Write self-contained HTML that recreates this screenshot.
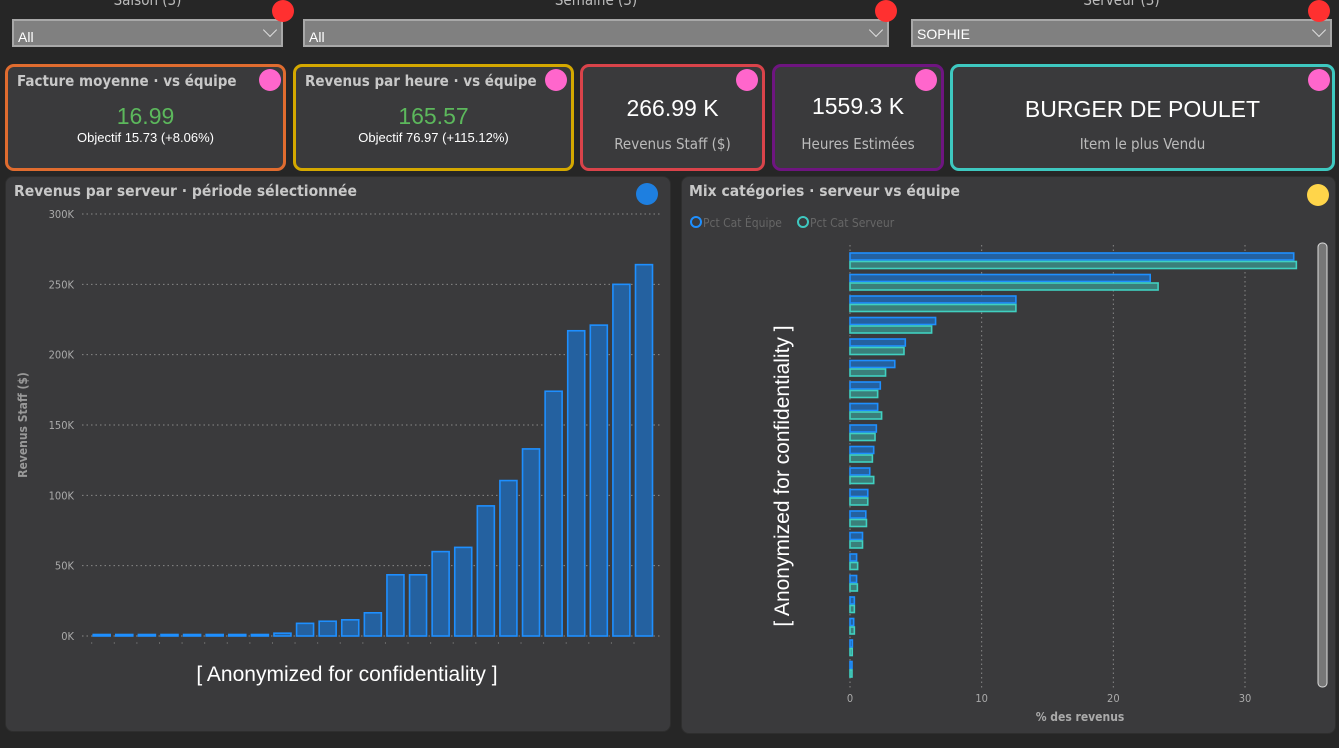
<!DOCTYPE html>
<html><head><meta charset="utf-8">
<style>
*{box-sizing:border-box;margin:0;padding:0}
body{width:1339px;height:748px;background:#262626;font-family:"DejaVu Sans Condensed","Liberation Sans",sans-serif;position:relative;overflow:hidden;color:#fff}
.abs{position:absolute}
.slabel{position:absolute;top:-9px;color:#bbb;font-size:15px;text-align:center}
.dd{position:absolute;top:19px;height:28px;background:#808080;border:2px solid #a8a8a8;font-family:"Liberation Sans",sans-serif;font-size:14px;color:#fff;padding:8px 0 0 4px}
.dd.s{padding-top:5px}
.chev{position:absolute;right:6px;top:4px;width:10px;height:10px;border-right:1.5px solid #ddd;border-bottom:1.5px solid #ddd;transform:rotate(45deg)}
.dot{position:absolute;width:22px;height:22px;border-radius:50%}
.card{position:absolute;top:64px;height:107px;border:3px solid;border-radius:9px;background:#3a3a3c}
.ctitle{position:absolute;left:9px;top:5px;font-size:15px;color:#c8c8c8;font-weight:bold}
.big{position:absolute;width:100%;text-align:center;font-family:"Liberation Sans",sans-serif}
.panel{position:absolute;top:176px;background:#3a3a3c;border-radius:8px;border:1px solid #2e2e2e}
</style></head><body>
<div class="slabel" style="left:12px;width:271px">Saison (3)</div>
<div class="slabel" style="left:303px;width:586px">Semaine (3)</div>
<div class="slabel" style="left:911px;width:421px">Serveur (3)</div>
<div class="dd" style="left:12px;width:271px">All<span class="chev"></span></div>
<div class="dd" style="left:303px;width:586px">All<span class="chev"></span></div>
<div class="dd s" style="left:911px;width:421px">SOPHIE<span class="chev"></span></div>
<div class="dot" style="left:272px;top:0;background:#ff3030"></div>
<div class="dot" style="left:875px;top:0;background:#ff3030"></div>
<div class="dot" style="left:1308px;top:0;background:#ff3030"></div>

<div class="card" style="left:5px;width:281px;border-color:#e06c2f">
 <div class="ctitle">Facture moyenne · vs équipe</div>
 <div class="big" style="top:36px;font-size:23px;color:#5cb85c">16.99</div>
 <div class="big" style="top:63px;font-size:13px">Objectif 15.73 (+8.06%)</div>
</div>
<div class="card" style="left:293px;width:281px;border-color:#d4a800">
 <div class="ctitle">Revenus par heure · vs équipe</div>
 <div class="big" style="top:36px;font-size:23px;color:#5cb85c">165.57</div>
 <div class="big" style="top:63px;font-size:13px">Objectif 76.97 (+115.12%)</div>
</div>
<div class="card" style="left:580px;width:185px;border-color:#d9434a">
 <div class="big" style="top:28px;font-size:23px">266.99 K</div>
 <div class="big" style="top:68px;font-size:15px;color:#bbb;font-family:'DejaVu Sans Condensed',sans-serif">Revenus Staff ($)</div>
</div>
<div class="card" style="left:772px;width:172px;border-color:#6e1580">
 <div class="big" style="top:26px;font-size:23px">1559.3 K</div>
 <div class="big" style="top:68px;font-size:15px;color:#bbb;font-family:'DejaVu Sans Condensed',sans-serif">Heures Estimées</div>
</div>
<div class="card" style="left:950px;width:385px;border-color:#3ec8c0">
 <div class="big" style="top:29px;font-size:23px">BURGER DE POULET</div>
 <div class="big" style="top:68px;font-size:15px;color:#bbb;font-family:'DejaVu Sans Condensed',sans-serif">Item le plus Vendu</div>
</div>
<div class="dot" style="left:259px;top:69px;background:#ff66cc"></div>
<div class="dot" style="left:545px;top:69px;background:#ff66cc"></div>
<div class="dot" style="left:736px;top:69px;background:#ff66cc"></div>
<div class="dot" style="left:915px;top:69px;background:#ff66cc"></div>
<div class="dot" style="left:1308px;top:69px;background:#ff66cc"></div>

<div class="panel" style="left:5px;width:666px;height:556px"></div>
<div class="panel" style="left:681px;width:655px;height:558px"></div>

<svg class="abs" style="left:0;top:0" width="1339" height="748" id="svg">
 <text x="14" y="196" fill="#c8c8c8" font-size="15.5" font-weight="bold" font-family="DejaVu Sans Condensed, sans-serif">Revenus par serveur · période sélectionnée</text>
 <circle cx="647" cy="194" r="11" fill="#1e7fe0"/>
 <text x="689" y="196" fill="#c8c8c8" font-size="15.5" font-weight="bold" font-family="DejaVu Sans Condensed, sans-serif">Mix catégories · serveur vs équipe</text>
 <circle cx="1318" cy="195" r="11" fill="#ffd54a"/>
 <g font-size="12" fill="#666" font-family="DejaVu Sans Condensed, sans-serif">
  <circle cx="696" cy="222" r="5" fill="none" stroke="#1e8fff" stroke-width="2"/><text x="703" y="227">Pct Cat Équipe</text>
  <circle cx="803" cy="222" r="5" fill="none" stroke="#3ec8c0" stroke-width="2"/><text x="810" y="227">Pct Cat Serveur</text>
 </g>
 <text transform="translate(27,425) rotate(-90)" text-anchor="middle" fill="#999" font-size="12" font-weight="bold" font-family="DejaVu Sans Condensed, sans-serif">Revenus Staff ($)</text>
 <text x="347" y="681" text-anchor="middle" fill="#fff" font-size="21" font-family="Liberation Sans, sans-serif">[ Anonymized for confidentiality ]</text>
 <text transform="translate(789,476) rotate(-90)" text-anchor="middle" fill="#fff" font-size="21" font-family="Liberation Sans, sans-serif">[ Anonymized for confidentiality ]</text>
 <text x="1080" y="721" text-anchor="middle" fill="#aaa" font-size="12" font-weight="bold" font-family="DejaVu Sans Condensed, sans-serif">% des revenus</text>
 <rect x="1318" y="243" width="9" height="444" rx="4" fill="#777" stroke="#ddd" stroke-width="1"/>
 <g id="left"></g><g id="right"></g>
</svg>
<script>
const revValues=[1,1,1,1,1,1,1,1,2,9,10.5,11.5,16.5,43.5,43.5,60,63,92.5,110.5,133,174,217,221,250,264];
const revTicks=[0,50,100,150,200,250,300];
const catEquipe=[33.7,22.8,12.6,6.5,4.2,3.4,2.3,2.1,2.0,1.8,1.5,1.35,1.2,0.95,0.5,0.5,0.33,0.28,0.18,0.15];
const catServeur=[33.9,23.4,12.6,6.2,4.1,2.7,2.1,2.4,1.9,1.7,1.8,1.35,1.25,0.95,0.58,0.56,0.33,0.33,0.17,0.15];
const pctTicks=[0,10,20,30];
const NS="http://www.w3.org/2000/svg";
function mk(p,t,a){const e=document.createElementNS(NS,t);for(const k in a)e.setAttribute(k,a[k]);p.appendChild(e);return e;}
const L=document.getElementById('left');
const yS=v=>636-v*(636-214)/300;
const xC=i=>101.7+i*(644-101.7)/(revValues.length-1);
revTicks.forEach(t=>{
 const ln=mk(L,'line',{x1:82,x2:662,y1:yS(t),y2:yS(t),stroke:'#888','stroke-dasharray':'1.5 3'});
 
 
 const tx=mk(L,'text',{x:74,y:yS(t)+4,'text-anchor':'end',fill:'#aaa','font-size':11,'font-family':'DejaVu Sans Condensed, sans-serif'});
 tx.textContent=t+'K';
 
 
});
revValues.forEach((v,i)=>{
 const h=Math.max(1.5,636-yS(v));
 const r=mk(L,'rect',{x:xC(i)-8.5,y:636-h,width:17,height:h,fill:'#2461a0',stroke:'#1e8fff','stroke-width':1.6});
 
 
 mk(L,'line',{x1:xC(i)-10,x2:xC(i)-10,y1:642,y2:644,stroke:'#666'});
});
const R=document.getElementById('right');
const xS=v=>850+v*(1245-850)/30;
const pitch=21.5, top0=253;
pctTicks.forEach(t=>{
 const ln=mk(R,'line',{x1:xS(t),x2:xS(t),y1:245,y2:690,stroke:'#888','stroke-dasharray':'1.5 3'});
 
 
 const tx=mk(R,'text',{x:xS(t),y:702,'text-anchor':'middle',fill:'#aaa','font-size':11,'font-family':'DejaVu Sans Condensed, sans-serif'});
 tx.textContent=t;
 
 
});
catEquipe.forEach((v,i)=>{
 const y=top0+i*pitch;
 const w1=Math.max(1,xS(v)-850), w2=Math.max(1,xS(catServeur[i])-850);
 const a=mk(R,'rect',{x:850,y:y,width:w1,height:7,fill:'#2461a0',stroke:'#1e8fff','stroke-width':1.6});
 
 
 const b=mk(R,'rect',{x:850,y:y+8.5,width:w2,height:7,fill:'#3a7f7a',stroke:'#40d0c0','stroke-width':1.6});
 
 
});
</script>
</body></html>
